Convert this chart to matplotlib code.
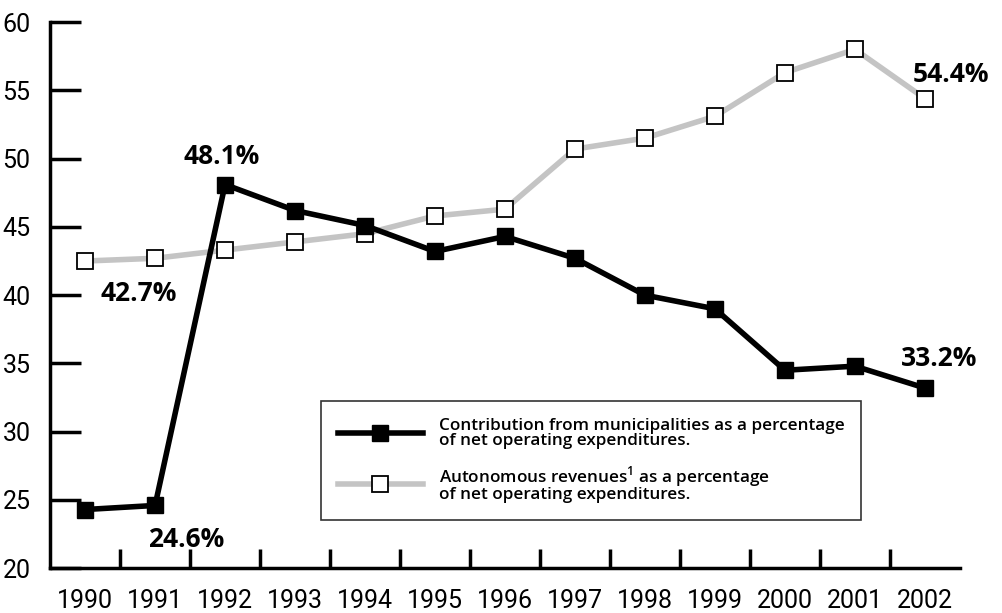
import matplotlib.pyplot as plt
from matplotlib.lines import Line2D

years = ['1990', '1991', '1992', '1993', '1994', '1995', '1996',
         '1997', '1998', '1999', '2000', '2001', '2002']
contribution = [24.3, 24.6, 48.1, 46.2, 45.1, 43.2, 44.3, 42.7, 40.0, 39.0, 34.5, 34.8, 33.2]
autonomous = [42.5, 42.7, 43.3, 43.9, 44.5, 45.8, 46.3, 50.7, 51.5, 53.1, 56.3, 58.0, 54.4]

label_contrib = 'Contribution from municipalities as a percentage\nof net operating expenditures.'
label_auto = 'Autonomous revenues$^{\\mathregular{1}}$ as a percentage\nof net operating expenditures.'

plt.rcParams['font.family'] = ['Open Sans', 'DejaVu Sans']

fig = plt.figure(figsize=(10.02, 6.13), dpi=100)
ax = fig.add_axes([0.05, 0.073, 0.908, 0.891])

x = list(range(len(years)))
ax.plot(x, autonomous, color='#c4c4c4', lw=4, marker='s', ms=12,
        mfc='white', mec='black', mew=1.3, zorder=2)
ax.plot(x, contribution, color='black', lw=4, marker='s', ms=12,
        mfc='black', mec='black', zorder=3)

ax.set_xlim(-0.5, 12.5)
ax.set_ylim(20, 60)
ax.set_yticks(range(20, 61, 5))
ax.set_xticks(x)
ax.set_xticklabels(years)
ax.set_xticks([i + 0.5 for i in range(12)], minor=True)
ax.tick_params(axis='x', which='major', length=0, labelsize=18, pad=15)
ax.tick_params(axis='x', which='minor', direction='in', length=14, width=2.5)
ax.tick_params(axis='y', direction='in', length=22, width=2.5, labelsize=18, pad=14)
for lab in ax.get_xticklabels() + ax.get_yticklabels():
    lab.set_family('Roboto')
for s in ['top', 'right']:
    ax.spines[s].set_visible(False)
for s in ['left', 'bottom']:
    ax.spines[s].set_linewidth(2.5)

bold = dict(fontsize=19, fontweight='bold', ha='center')
ax.text(1.95, contribution[2] + 1.1, f'{contribution[2]}%', va='bottom', **bold)
ax.text(1.44, contribution[1] - 1.5, f'{contribution[1]}%', va='top', **bold)
ax.text(12.2, contribution[12] + 1.2, f'{contribution[12]}%', va='bottom', **bold)
ax.text(0.77, autonomous[1] - 1.6, f'{autonomous[1]}%', va='top', **bold)
ax.text(12.37, autonomous[12] + 0.8, f'{autonomous[12]}%', va='bottom', **bold)

handles = [Line2D([], [], color='black', lw=4, marker='s', ms=12, mfc='black', mec='black'),
           Line2D([], [], color='#c4c4c4', lw=4, marker='s', ms=12, mfc='white', mec='black', mew=1.3)]
leg = ax.legend(handles, [label_contrib, label_auto], loc='lower left',
                bbox_to_anchor=(0.288, 0.072), frameon=True, fancybox=False,
                edgecolor='black', fontsize=12.3, handlelength=5,
                borderpad=1.0, labelspacing=0.9, handletextpad=0.9)
leg.get_frame().set_linewidth(1.2)
for t in leg.get_texts():
    t.set_fontweight('semibold')
    t.set_linespacing(0.9)

fig.savefig('out.png', dpi=100)
